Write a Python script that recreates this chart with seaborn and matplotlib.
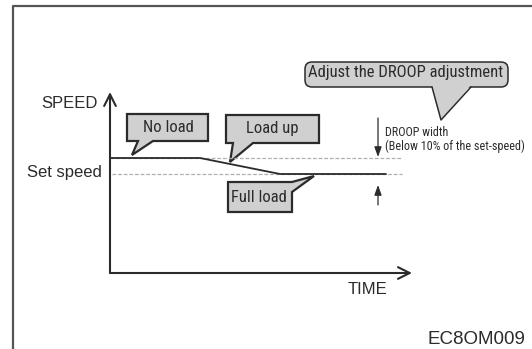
import matplotlib
matplotlib.use('Agg')
import matplotlib.pyplot as plt
import matplotlib.transforms as mtransforms
from matplotlib.patches import Polygon, FancyBboxPatch
from matplotlib import font_manager
import seaborn as sns

sns.set_theme(style='white')
plt.rcParams['font.family'] = ['Liberation Sans', 'DejaVu Sans']

# pick a condensed face if one is installed, else shrink the regular one
NARROW = dict(family=['Liberation Sans', 'DejaVu Sans'], size=10.4)
for f in font_manager.fontManager.ttflist:
    if f.name in ('Liberation Sans Narrow', 'Roboto Condensed', 'Open Sans Condensed'):
        NARROW = dict(family=[f.name, 'DejaVu Sans'], size=12)
        break
    if f.name in ('DejaVu Sans', 'Roboto', 'Open Sans') and str(f.stretch) in ('condensed', '300', '75'):
        NARROW = dict(family=[f.name], stretch='condensed', size=11)

# ------------------------------------------------------------
# data: engine speed vs time (time / speed in arbitrary units)
# ------------------------------------------------------------
time = [0, 90, 170, 276]
speed = [115, 115, 99, 99]
no_load_speed = 115
set_speed = 99
time_end = 292
droop_time = 268

axis_labels = ['SPEED', 'TIME']
set_label = 'Set speed'
box_labels = ['No load', 'Load up', 'Full load']
droop_title = 'Adjust the DROOP adjustment'
droop_note = ['DROOP width', '(Below 10% of the set-speed)']
fig_code = 'EC8OM009'

INK = '#2b2b2b'
BOX = '#d0d0d0'
DASH = '#b0b0b0'

W, H = 532, 349
fig = plt.figure(figsize=(W / 100, H / 100), dpi=100)
ax = fig.add_axes([0, 0, 1, 1])
ax.set_xlim(-110, W - 110)
ax.set_ylim(273 - H, 273)
ax.axis('off')

# pixel coordinates, origin top-left (for the drawing furniture)
PIX = mtransforms.Affine2D().scale(1, -1).translate(0, H) + mtransforms.IdentityTransform()

# outer frame
ax.plot([12.5, 12.5, W], [H, 5.5, 5.5], color='#555555', lw=1.6, transform=PIX, clip_on=False)

# reference levels
ax.hlines(no_load_speed, 0, time_end, color=DASH, lw=0.9, ls=(0, (3, 1.5)))
ax.hlines(set_speed, 2, time_end, color=DASH, lw=0.9, ls=(0, (3, 1.5)))

# speed profile
sns.lineplot(x=time, y=speed, ax=ax, color=INK, lw=1.3, sort=False, estimator=None)

# axes with arrows
arrow = dict(arrowstyle='->,head_length=0.7,head_width=0.35', lw=1.5, color=INK,
             shrinkA=0, shrinkB=0)
ax.annotate('', xy=(0, 181), xytext=(0, 0), arrowprops=arrow)
ax.annotate('', xy=(302, 0), xytext=(0, 0), arrowprops=arrow)

# droop width arrows
small = dict(arrowstyle='-|>,head_length=0.5,head_width=0.18', lw=0.9, color=INK,
             shrinkA=0, shrinkB=0)
ax.annotate('', xy=(droop_time, no_load_speed + 1), xytext=(droop_time, 155), arrowprops=small)
ax.annotate('', xy=(droop_time, 88), xytext=(droop_time, 68), arrowprops=small)

# labels
ax.text(69, 103, axis_labels[0], transform=PIX, ha='center', va='center', fontsize=12, color=INK)
ax.text(64, 173, set_label, transform=PIX, ha='center', va='center', fontsize=12, color=INK)
ax.text(368, 290, axis_labels[1], transform=PIX, ha='center', va='center', fontsize=12, color=INK)
ax.text(476, 339, fig_code, transform=PIX, ha='center', va='center', fontsize=13.5, color=INK)
note_font = dict(NARROW, size=NARROW['size'] * 0.73)
ax.text(385, 132, droop_note[0], transform=PIX, ha='left', va='center', color=INK, **note_font)
ax.text(385, 146, droop_note[1], transform=PIX, ha='left', va='center', color=INK, **note_font)

# callout boxes
callouts = [
    [(127, 114), (208, 114), (208, 141), (153, 141), (132, 155), (138, 141), (127, 141)],
    [(226, 115), (319, 115), (319, 143), (253, 143), (230, 162), (233, 143), (226, 143)],
    [(228, 182), (292, 182), (314, 176), (292, 192), (292, 212), (228, 212)],
]
centers = [(168, 128), (272, 129), (259, 198)]
for verts, (cx, cy), lab in zip(callouts, centers, box_labels):
    ax.add_patch(Polygon(verts, closed=True, transform=PIX, facecolor=BOX,
                         edgecolor=INK, lw=1.6, joinstyle='miter'))
    ax.text(cx, cy, lab, transform=PIX, ha='center', va='center', color=INK, **NARROW)

# rounded speech bubble
ax.add_patch(FancyBboxPatch((305, 62), 203, 25, boxstyle='round,pad=0,rounding_size=7',
                            transform=PIX, facecolor=BOX, edgecolor=INK, lw=1.1))
ax.add_patch(Polygon([(432, 85), (441, 120), (471, 85)], closed=True, transform=PIX,
                     facecolor=BOX, edgecolor='none'))
ax.plot([432, 441, 471], [87, 120, 87], transform=PIX, color=INK, lw=1.1)
ax.text(406, 73, droop_title, transform=PIX, ha='center', va='center', color=INK, **NARROW)

fig.savefig('out.png', dpi=100, facecolor='white')
